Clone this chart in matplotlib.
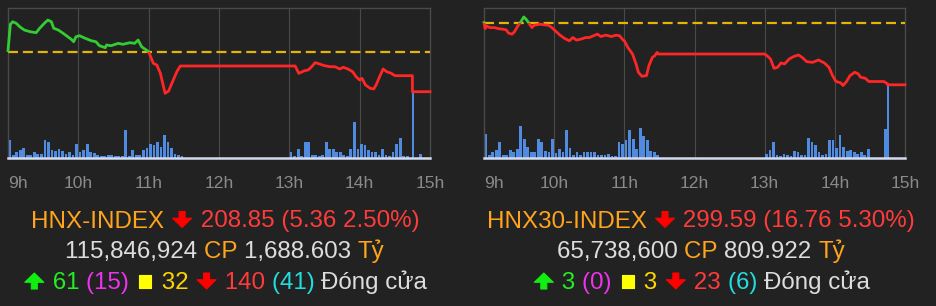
import numpy as np
import matplotlib
matplotlib.use("Agg")
import matplotlib.pyplot as plt
from matplotlib.patches import Rectangle, Polygon, FancyBboxPatch

W, H = 936, 306
BG = "#222222"

# ---- HNX-INDEX ----
hnx_ref = 214.21
hnx_times = ["9:00", "9:02", "9:04", "9:07", "9:10", "9:14", "9:19", "9:24", "9:27", "9:31",
             "9:34", "9:37", "9:39", "9:43", "9:47", "9:51", "9:54", "9:56", "9:58", "10:01",
             "10:06", "10:11", "10:15", "10:18", "10:23", "10:24", "10:28", "10:34", "10:38", "10:44",
             "10:48", "10:51", "10:54", "10:58", "11:00", "11:04", "11:07", "11:10", "11:12", "11:14",
             "11:17", "11:21", "11:24", "11:27", "11:29", "13:05", "13:08", "13:10", "13:13", "13:16",
             "13:19", "13:22", "13:25", "13:30", "13:35", "13:39", "13:43", "13:46", "13:50", "13:54",
             "13:57", "14:00", "14:02", "14:05", "14:09", "14:12", "14:14", "14:17", "14:20", "14:23",
             "14:27", "14:30", "14:45", "14:45", "15:00"]
hnx_price = [214.43, 218.02, 218.37, 218.16, 217.69, 217.24, 217.01, 216.88, 217.48, 218.16,
             218.60, 218.37, 217.48, 217.24, 216.80, 216.33, 215.98, 215.65, 216.33, 216.47,
             216.11, 215.79, 215.65, 215.11, 214.84, 215.20, 215.11, 215.43, 215.30, 215.52,
             215.43, 215.88, 214.97, 214.52, 214.29, 212.71, 212.48, 211.35, 209.99, 208.63,
             208.94, 210.44, 211.57, 212.35, 212.35, 212.35, 211.35, 211.49, 211.71, 211.80,
             212.25, 212.80, 212.66, 212.39, 212.25, 212.25, 211.94, 212.17, 211.94, 211.57,
             210.89, 210.44, 210.67, 209.76, 209.31, 209.22, 209.76, 210.89, 211.94, 211.57,
             211.35, 211.03, 211.03, 208.85, 208.85]
# volume per 3-minute bucket (relative units)
hnx_vol_am = [17.7, 3, 6, 8, 10, 3, 3, 6, 4, 4, 17.7, 16, 8, 6.7, 9, 6.7, 4, 6, 3, 13.7,
              6, 7.7, 13.7, 6, 5, 3, 2, 2, 3, 3, 2, 2, 2, 27.7, 2, 7.7, 3, 3, 7.7, 10,
              14, 12.7, 16, 11, 23.3, 16, 10, 4.3, 3, 2]
hnx_vol_pm = [6, 2, 9.3, 2, 16, 16, 3, 3, 2, 3, 16, 9.3, 9.3, 6, 6, 3, 2, 9.3, 36, 9.3,
              13.7, 12.7, 8.3, 6, 6, 3, 9.3, 3, 2, 6, 14.3, 20, 2, 2, 0]
hnx_vol_atc = [66, 3.7]
hnx_ylim = (199.83, 220.24)

# ---- HNX30-INDEX ----
hnx30_ref = 316.35
hnx30_times = ["9:00", "9:01", "9:02", "9:05", "9:09", "9:12", "9:16", "9:19", "9:21", "9:24",
               "9:26", "9:29", "9:32", "9:34", "9:36", "9:39", "9:41", "9:43", "9:48", "9:52",
               "9:55", "9:58", "10:01", "10:05", "10:09", "10:13", "10:16", "10:19", "10:23", "10:27",
               "10:30", "10:35", "10:37", "10:40", "10:44", "10:49", "10:53", "10:56", "10:59", "11:00",
               "11:03", "11:07", "11:10", "11:12", "11:15", "11:19", "11:21", "11:24", "11:26", "11:28",
               "11:29", "13:00", "13:02", "13:05", "13:08", "13:11", "13:14", "13:17", "13:21", "13:25",
               "13:29", "13:32", "13:36", "13:41", "13:46", "13:51", "13:55", "13:58", "14:01", "14:05",
               "14:07", "14:10", "14:13", "14:17", "14:20", "14:22", "14:26", "14:29", "14:42", "14:45",
               "14:45", "15:00"]
hnx30_price = [316.51, 314.89, 315.62, 315.16, 315.16, 314.89, 314.73, 314.54, 313.65, 313.38,
               314.00, 315.62, 316.97, 318.05, 317.43, 316.08, 315.16, 315.81, 316.08, 315.89,
               315.81, 315.16, 314.27, 313.11, 312.19, 311.57, 312.46, 311.76, 312.03, 312.46,
               312.46, 313.11, 313.38, 312.73, 313.11, 312.73, 313.11, 312.92, 311.76, 311.57,
               309.76, 307.97, 305.27, 303.00, 301.92, 302.11, 304.81, 307.05, 307.51, 308.40,
               307.97, 307.97, 307.51, 306.62, 304.08, 304.35, 305.54, 305.27, 306.62, 307.32,
               307.70, 307.05, 305.89, 305.70, 306.35, 305.54, 304.35, 302.11, 300.49, 300.13,
               299.40, 300.49, 302.11, 303.00, 302.57, 301.65, 301.38, 300.49, 300.49, 299.86,
               299.59, 299.59]
hnx30_vol_am = [23.7, 3, 6, 8.3, 16, 3, 3, 7.7, 6, 9.3, 31.7, 19.3, 11, 6, 6, 19.3, 16, 7, 6, 19.3,
                5, 9.3, 6, 27.7, 10, 3, 6, 3, 6, 6, 6, 6, 3, 3, 3, 4, 2, 2, 16, 14.3,
                17.7, 27.7, 19.3, 9.3, 30, 22, 17.7, 7, 6, 3]
hnx30_vol_pm = [4.3, 7.7, 16, 3, 2, 4, 3, 2, 7, 6, 3, 3, 20, 16, 12.7, 6, 3, 4, 17.7, 17.7,
                10, 23.3, 11, 7, 7.7, 6, 4, 6, 3, 9.3, 0, 0, 0, 0, 29.3]
hnx30_vol_atc = [73.7, 0]
hnx30_ylim = (279.68, 320.49)

atc_times = ["14:45.5", "14:52"]
hour_labels = ["9h", "10h", "11h", "12h", "13h", "14h", "15h"]

FONT = ["Liberation Sans", "DejaVu Sans"]


def to_hour(s):
    h, m = s.split(":")
    return int(h) + float(m) / 60


def bucket_times(start, n):
    # centre of each 3-minute bucket
    return [to_hour(start) + (3 * i + 1.5) / 60 for i in range(n)]


def draw_chart(rect, times, price, ref, ylim, vol_am, vol_pm, vol_atc):
    ax = fig.add_axes(rect)
    ax.set_facecolor(BG)
    vx = bucket_times("9:00", len(vol_am)) + bucket_times("13:00", len(vol_pm)) \
        + [to_hour(t) for t in atc_times]
    vy = vol_am + vol_pm + vol_atc
    ax.bar(vx, vy, width=2.4 / 60, color="#4f8be0", linewidth=0)
    ax.set_ylim(0, 150)
    ax.set_xlim(9, 15)
    for hh in range(10, 15):
        ax.axvline(hh, color="#4a4a4a", lw=0.8, zorder=0)
    for side in ("top", "left", "right"):
        ax.spines[side].set_color("#4a4a4a")
        ax.spines[side].set_linewidth(1.0)
    ax.spines["bottom"].set_color("#d4dbef")
    ax.spines["bottom"].set_linewidth(1.8)
    ax.set_yticks([])
    ax.set_xticks(range(9, 16))
    ax.set_xticklabels(hour_labels, color="#8a8a8a", fontsize=12.6, family=FONT)
    ax.tick_params(axis="x", length=0, pad=13)
    ax.get_xticklabels()[0].set_ha("left")

    ax2 = ax.twinx()
    ax2.set_ylim(*ylim)
    ax2.set_xlim(9, 15)
    ax2.set_yticks([])
    for s in ax2.spines.values():
        s.set_visible(False)
    ax2.axhline(ref, color="#e2b40c", lw=1.6, dashes=(4.5, 2.2))
    t = [to_hour(x) for x in times]
    up, = ax2.plot(t, price, color="#33cc33", lw=2.0, solid_joinstyle="round")
    dn, = ax2.plot(t, price, color="#ff2626", lw=2.0, solid_joinstyle="round")
    up.set_clip_path(Rectangle((8, ref), 8, 100, transform=ax2.transData))
    dn.set_clip_path(Rectangle((8, ref - 100), 8, 100, transform=ax2.transData))
    return ax


def fpt(x, y):
    return (x / W, 1 - y / H)


def draw_arrow(cx, yb, color, down):
    # filled arrow, 19 px wide, 16 px tall, sitting on the baseline
    w, h, sw = 19.0, 16.0, 3.0
    top = yb - h
    if down:
        pts = [(cx - sw, top), (cx + sw, top), (cx + sw, top + 0.42 * h), (cx + w / 2, top + 0.42 * h),
               (cx, yb), (cx - w / 2, top + 0.42 * h), (cx - sw, top + 0.42 * h)]
    else:
        pts = [(cx - sw, yb), (cx + sw, yb), (cx + sw, yb - 0.42 * h), (cx + w / 2, yb - 0.42 * h),
               (cx, top), (cx - w / 2, yb - 0.42 * h), (cx - sw, yb - 0.42 * h)]
    fig.add_artist(Polygon([fpt(*p) for p in pts], closed=True, transform=fig.transFigure,
                           facecolor=color, edgecolor=color, lw=0.8, joinstyle="round"))


def draw_square(cx, yb, color):
    s = 12.5
    x0, y0 = fpt(cx - s / 2, yb - 1.5)
    fig.add_artist(FancyBboxPatch((x0, y0), s / W, s / H, boxstyle="square,pad=0",
                                  transform=fig.transFigure, facecolor=color, edgecolor=color,
                                  lw=0.8, joinstyle="round"))


def colored_line(xc, yb, pieces, size=17.4):
    # pieces: (text, color) or ("<down>"/"<up>"/"<sq>", color)
    items = []
    r = fig.canvas.get_renderer()
    for s, c in pieces:
        if s.startswith("<"):
            items.append((s, c, None, 23.0 if s != "<sq>" else 19.0))
        else:
            tx = fig.text(0, 0, s, color=c, va="baseline", family=FONT, fontsize=size)
            items.append((s, c, tx, tx.get_window_extent(r).width))
    x = xc - sum(it[3] for it in items) / 2
    for s, c, tx, w in items:
        if tx is not None:
            tx.set_position(fpt(x, yb))
        elif s == "<sq>":
            draw_square(x + w / 2, yb, c)
        else:
            draw_arrow(x + w / 2, yb, c, s == "<down>")
        x += w


fig = plt.figure(figsize=(W / 100, H / 100), dpi=100)
fig.patch.set_facecolor(BG)

draw_chart([8 / W, 1 - 158 / H, 422 / W, 150 / H], hnx_times, hnx_price, hnx_ref, hnx_ylim,
           hnx_vol_am, hnx_vol_pm, hnx_vol_atc)
draw_chart([484 / W, 1 - 158 / H, 421 / W, 150 / H], hnx30_times, hnx30_price, hnx30_ref, hnx30_ylim,
           hnx30_vol_am, hnx30_vol_pm, hnx30_vol_atc)

ORANGE = "#ffa41c"
RED = "#ff3b3b"
GREY = "#dddddd"

colored_line(225, 227.5, [("HNX-INDEX ", ORANGE), ("<down>", "#ff0000"),
                          (" 208.85 (5.36 2.50%)", RED)])
colored_line(225, 258, [("115,846,924 ", GREY), ("CP ", ORANGE), ("1,688.603 ", GREY), ("Tỷ", ORANGE)])
colored_line(225, 289, [("<up>", "#11ee11"), (" 61 ", "#22ee22"), ("(15) ", "#ee33ee"),
                        ("<sq>", "#ffff00"), (" 32 ", "#ffd500"), ("<down>", "#ff0000"),
                        (" 140 ", RED), ("(41) ", "#22dddd"), ("Đóng cửa", GREY)])

colored_line(701, 227.5, [("HNX30-INDEX ", ORANGE), ("<down>", "#ff0000"),
                          (" 299.59 (16.76 5.30%)", RED)])
colored_line(701, 258, [("65,738,600 ", GREY), ("CP ", ORANGE), ("809.922 ", GREY), ("Tỷ", ORANGE)])
colored_line(701, 289, [("<up>", "#11ee11"), (" 3 ", "#22ee22"), ("(0) ", "#ee33ee"),
                        ("<sq>", "#ffff00"), (" 3 ", "#ffd500"), ("<down>", "#ff0000"),
                        (" 23 ", RED), ("(6) ", "#22dddd"), ("Đóng cửa", GREY)])

fig.savefig("out.png", dpi=100, facecolor=BG)
